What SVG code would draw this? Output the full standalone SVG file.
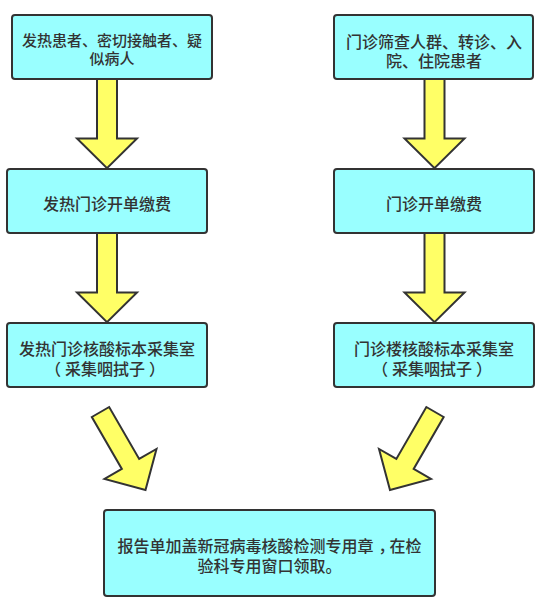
<svg xmlns="http://www.w3.org/2000/svg" width="542" height="603" viewBox="0 0 542 603">
<style>
.box{fill:#99FFFF;stroke:#333;stroke-width:2}
.arr{fill:#FFFF66;stroke:#333;stroke-width:2;stroke-linejoin:miter}
text{font-family:"Noto Sans CJK SC","Microsoft YaHei",sans-serif;fill:#333;text-anchor:middle;dominant-baseline:central;font-weight:500}
.s15{font-size:15px}
.s16{font-size:16px}
</style>
<defs>
<path id="arrow" d="M-10,0 L10,0 L10,60 L30,60 L0,90 L-30,60 L-10,60 Z"/>
</defs>
<rect width="542" height="603" fill="#fff"/>
<g id="connectors">
<use href="#arrow" class="arr" transform="translate(107,79) scale(1,0.99)"/>
<use href="#arrow" class="arr" transform="translate(434.5,79) scale(1,0.99)"/>
<use href="#arrow" class="arr" transform="translate(107,233) scale(1,0.99)"/>
<use href="#arrow" class="arr" transform="translate(434.5,233) scale(1,0.99)"/>
<use href="#arrow" class="arr" transform="translate(100.5,412) rotate(-30)"/>
<use href="#arrow" class="arr" transform="translate(435,412) rotate(30)"/>
</g>
<g id="n1">
<rect class="box" x="12" y="15" width="200" height="64" rx="3"/>
<text class="s15" x="112" y="39">发热患者、密切接触者、疑</text>
<text class="s15" x="112" y="57">似病人</text>
</g>
<g id="n2">
<rect class="box" x="334" y="15" width="199" height="64" rx="3"/>
<text class="s16" x="434" y="41">门诊筛查人群、转诊、入</text>
<text class="s16" x="434" y="60">院、住院患者</text>
</g>
<g id="n3">
<rect class="box" x="7" y="169" width="200" height="64" rx="3"/>
<text class="s16" x="107" y="203">发热门诊开单缴费</text>
</g>
<g id="n4">
<rect class="box" x="334" y="169" width="200" height="64" rx="3"/>
<text class="s16" x="434" y="203">门诊开单缴费</text>
</g>
<g id="n5">
<rect class="box" x="7" y="323" width="200" height="64" rx="3"/>
<text class="s16" x="107" y="348">发热门诊核酸标本采集室</text>
<text class="s16" x="109" y="368"><tspan dx="-4">（</tspan><tspan dx="4">采集咽拭子</tspan><tspan dx="4">）</tspan></text>
</g>
<g id="n6">
<rect class="box" x="334" y="323" width="200" height="64" rx="3"/>
<text class="s16" x="434" y="348">门诊楼核酸标本采集室</text>
<text class="s16" x="436" y="368"><tspan dx="-4">（</tspan><tspan dx="4">采集咽拭子</tspan><tspan dx="4">）</tspan></text>
</g>
<g id="n7">
<rect class="box" x="104" y="510" width="331" height="86" rx="3"/>
<text class="s16" x="269.5" y="545">报告单加盖新冠病毒核酸检测专用章<tspan dx="5">，</tspan><tspan dx="-5">在检</tspan></text>
<text class="s16" x="269.5" y="565">验科专用窗口领取。</text>
</g>
</svg>
